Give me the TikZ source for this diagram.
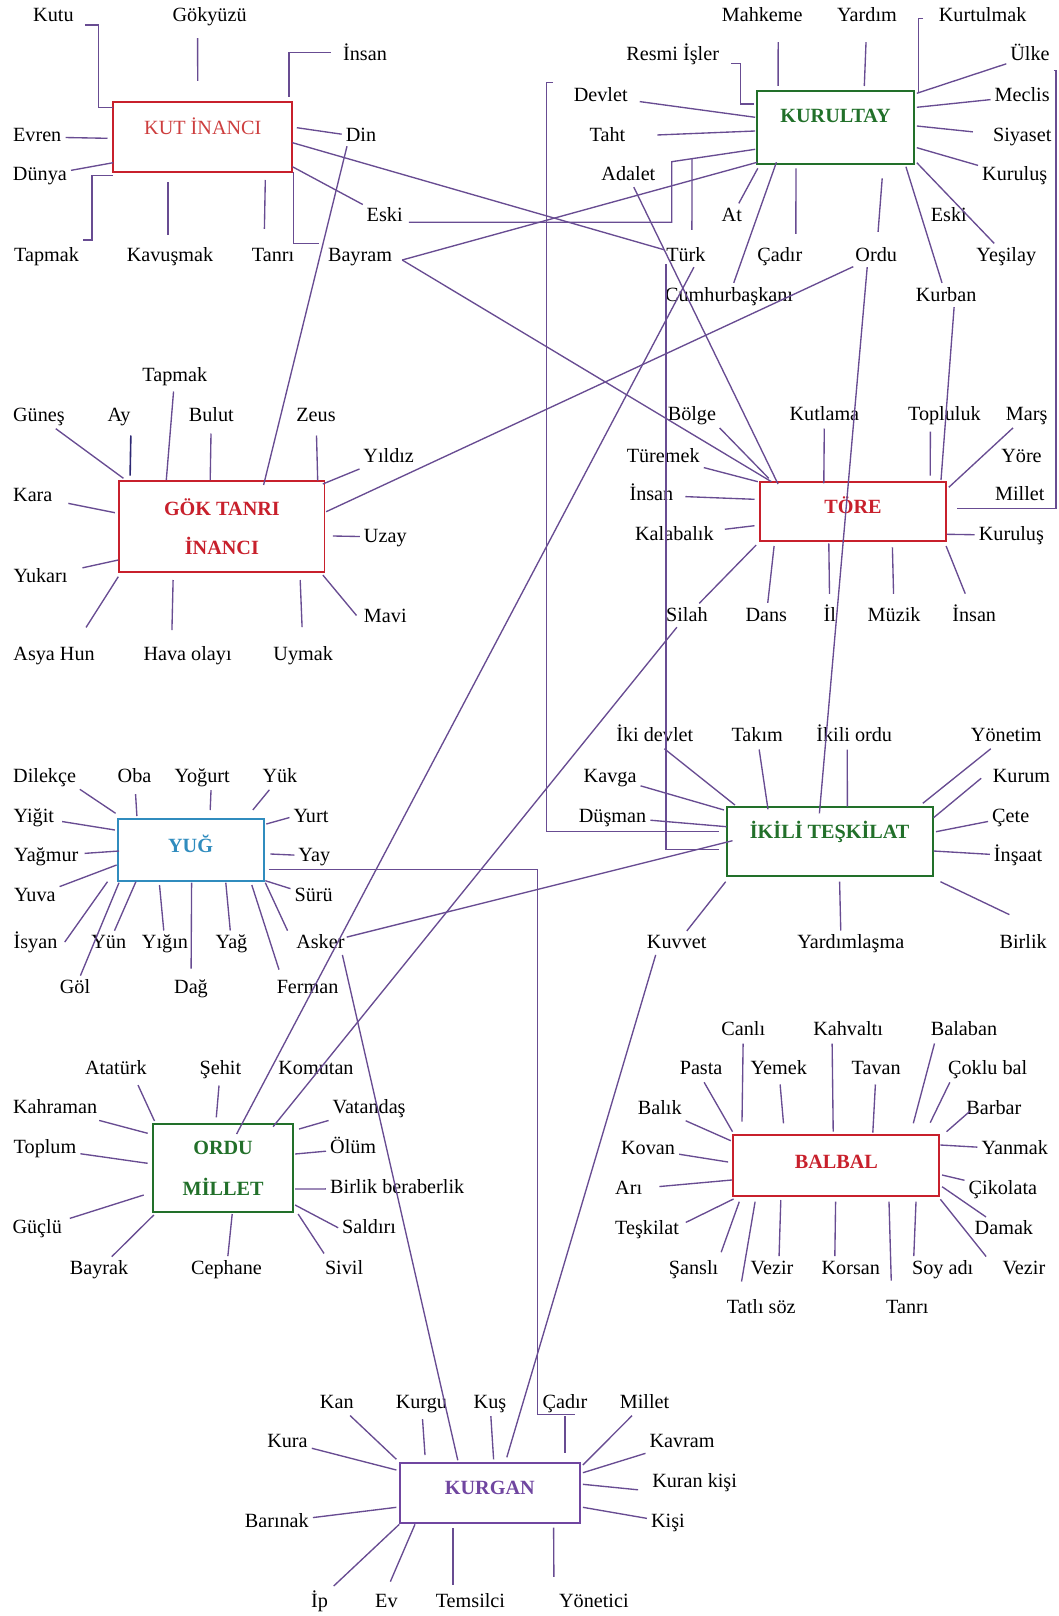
\documentclass[tikz,border=0pt]{standalone}
\usepackage{fontspec}
\setmainfont{Liberation Serif}
\usepackage{tikz}
\definecolor{linec}{RGB}{104,76,146}
\definecolor{boxred}{RGB}{200,32,44}
\definecolor{kutred}{RGB}{205,62,62}
\definecolor{boxgreen}{RGB}{34,112,42}
\definecolor{boxblue}{RGB}{48,140,190}
\definecolor{boxpurple}{RGB}{112,70,160}
\definecolor{aydark}{RGB}{45,40,115}
\newcommand{\lblsize}{\fontsize{20.2pt}{24.2pt}\selectfont}
\tikzstyle{term} = [inner sep=2pt, text height=14pt, text depth=4pt, yshift=-2pt]
\tikzstyle{redbox} = [rectangle, draw=boxred, text=boxred, line width=1.9pt, inner sep=0pt, outer sep=0pt, font=\lblsize\bfseries]
\tikzstyle{greenbox} = [rectangle, draw=boxgreen, text=boxgreen, line width=1.9pt, inner sep=0pt, outer sep=0pt, font=\lblsize\bfseries]
\tikzstyle{bluebox} = [rectangle, draw=boxblue, text=boxblue, line width=1.9pt, inner sep=0pt, outer sep=0pt, font=\lblsize\bfseries]
\tikzstyle{purplebox} = [rectangle, draw=boxpurple, text=boxpurple, line width=1.9pt, inner sep=0pt, outer sep=0pt, font=\lblsize\bfseries]
\tikzstyle{spoke} = [draw=linec, line width=1.35pt, shorten <=2pt]
\tikzstyle{link} = [draw=linec, line width=1.35pt]

\begin{document}
\begin{tikzpicture}[x=1pt, y=-1pt, font=\lblsize]
        \useasboundingbox (0,0) rectangle (1058,1616);

        % KUT INANCI
        \node (kut) [redbox, text=kutred, font=\lblsize, minimum width=179.2, minimum height=70, text height=4.8pt, text depth=10pt] at (202.8,137.3) {KUT İNANCI};
        \node (kutu) [term] at (53.4,15) {Kutu};
        \node (gokyuzu) [term] at (209.6,15) {Gökyüzü};
        \node (insanA) [term] at (365,53.3) {İnsan};
        \node (evren) [term] at (37.2,135) {Evren};
        \node (din) [term] at (361,135) {Din};
        \node (dunya) [term] at (39.9,174) {Dünya};
        \node (eskiA) [term] at (384.7,214.3) {Eski};
        \node (tapmakA) [term] at (46.6,254) {Tapmak};
        \node (kavusmak) [term] at (170,254) {Kavuşmak};
        \node (tanriA) [term] at (273.1,254) {Tanrı};
        \node (bayram) [term] at (360,254) {Bayram};

        % KURULTAY
        \node (kurultay) [greenbox, minimum width=156.8, minimum height=73.3, text height=5.7pt, text depth=15pt] at (835.6,127.65) {KURULTAY};
        \node (mahkeme) [term] at (762.2,15) {Mahkeme};
        \node (yardim) [term] at (867,15) {Yardım};
        \node (kurtulmak) [term] at (982.6,15) {Kurtulmak};
        \node (resmi) [term] at (672.7,54) {Resmi İşler};
        \node (ulke) [term] at (1030,54) {Ülke};
        \node (devlet) [term] at (600.7,94.3) {Devlet};
        \node (meclis) [term] at (1022.2,94.3) {Meclis};
        \node (taht) [term] at (607.4,135) {Taht};
        \node (siyaset) [term] at (1022.2,135) {Siyaset};
        \node (adalet) [term] at (628.4,174) {Adalet};
        \node (kurulusA) [term] at (1014.7,174) {Kuruluş};
        \node (atlbl) [term] at (731.8,214.3) {At};
        \node (eskiB) [term] at (948.8,214.3) {Eski};
        \node (turk) [term] at (685.9,254) {Türk};
        \node (cadirA) [term] at (779.8,254) {Çadır};
        \node (ordulbl) [term] at (876.2,254) {Ordu};
        \node (yesilay) [term] at (1006.3,254) {Yeşilay};
        \node (cumhur) [term] at (729.1,294) {Cumhurbaşkanı};
        \node (kurban) [term] at (946.1,294) {Kurban};

        % GOK TANRI INANCI
        \node (gok) [redbox, align=center, minimum width=205.2, minimum height=91.3] at (221.9,526.65) {GÖK TANRI\\[14.1pt]İNANCI};
        \node (tapmakB) [term] at (174.8,374.3) {Tapmak};
        \node (gunes) [term] at (38.9,414.3) {Güneş};
        \node (ay) [term] at (119,414.3) {Ay};
        \node (bulut) [term] at (211.3,414.3) {Bulut};
        \node (zeus) [term] at (316,414.3) {Zeus};
        \node (yildiz) [term] at (388.7,455) {Yıldız};
        \node (kara) [term] at (32.8,494.3) {Kara};
        \node (uzay) [term] at (385.3,535) {Uzay};
        \node (yukari) [term] at (40.6,575) {Yukarı};
        \node (mavi) [term] at (385.3,615) {Mavi};
        \node (asyahun) [term] at (54.1,653.3) {Asya Hun};
        \node (hava) [term] at (187.6,653.3) {Hava olayı};
        \node (uymak) [term] at (303.2,653.3) {Uymak};

        % TORE
        \node (tore) [redbox, minimum width=186.2, minimum height=59.3, text height=14.7pt, text depth=10pt] at (853,511.35) {TÖRE};
        \node (bolge) [term] at (691.9,413.3) {Bölge};
        \node (kutlama) [term] at (824.4,413.3) {Kutlama};
        \node (topluluk) [term] at (944.4,413.3) {Topluluk};
        \node (mars) [term] at (1026.6,413.3) {Marş};
        \node (turemek) [term] at (663.2,455) {Türemek};
        \node (yore) [term] at (1021.5,455) {Yöre};
        \node (insanB) [term] at (651.4,493.3) {İnsan};
        \node (milletA) [term] at (1019.8,493.3) {Millet};
        \node (kalabalik) [term] at (674.4,533.3) {Kalabalık};
        \node (kurulusB) [term] at (1011.4,533.3) {Kuruluş};
        \node (silah) [term] at (686.9,614) {Silah};
        \node (dans) [term] at (766.3,614) {Dans};
        \node (il) [term] at (829.8,614) {İl};
        \node (muzik) [term] at (894.1,614) {Müzik};
        \node (insanC) [term] at (974.2,614) {İnsan};

        % YUG
        \node (yug) [bluebox, minimum width=146, minimum height=61.4, text height=14pt, text depth=10pt] at (190.6,850) {YUĞ};
        \node (dilekce) [term] at (44.6,775) {Dilekçe};
        \node (oba) [term] at (134.5,775) {Oba};
        \node (yogurt) [term] at (202.1,775) {Yoğurt};
        \node (yuk) [term] at (279.9,775) {Yük};
        \node (yigit) [term] at (33.8,815) {Yiğit};
        \node (yurt) [term] at (311,815) {Yurt};
        \node (yagmur) [term] at (46.3,854) {Yağmur};
        \node (yay) [term] at (314.3,854) {Yay};
        \node (yuva) [term] at (34.8,894) {Yuva};
        \node (suru) [term] at (313.7,894) {Sürü};
        \node (isyan) [term] at (35.5,941.7) {İsyan};
        \node (yun) [term] at (108.8,941.7) {Yün};
        \node (yigin) [term] at (165,941.7) {Yığın};
        \node (yag) [term] at (231.5,941.7) {Yağ};
        \node (asker) [term] at (320.4,941.7) {Asker};
        \node (gol) [term] at (75,986.7) {Göl};
        \node (dag) [term] at (191,986.7) {Dağ};
        \node (ferman) [term] at (307.6,986.7) {Ferman};

        % IKILI TESKILAT
        \node (ikili) [greenbox, minimum width=205.9, minimum height=68.4, text height=8pt, text depth=15pt] at (829.65,841.5) {İKİLİ TEŞKİLAT};
        \node (ikidevlet) [term] at (654.8,734.3) {İki devlet};
        \node (takim) [term] at (757.2,734.3) {Takım};
        \node (ikiliordu) [term] at (854.2,734.3) {İkili ordu};
        \node (yonetim) [term] at (1006.3,734.3) {Yönetim};
        \node (kavga) [term] at (610.1,775) {Kavga};
        \node (kurum) [term] at (1021.5,775) {Kurum};
        \node (dusman) [term] at (612.5,815) {Düşman};
        \node (cete) [term] at (1010.7,815) {Çete};
        \node (insaat) [term] at (1018.1,854) {İnşaat};
        \node (kuvvet) [term] at (676.7,941.7) {Kuvvet};
        \node (yardimlasma) [term] at (850.8,941.7) {Yardımlaşma};
        \node (birlikA) [term] at (1023.2,941.7) {Birlik};

        % ORDU MILLET
        \node (ordu) [greenbox, align=center, minimum width=140.6, minimum height=88] at (223.1,1168.3) {ORDU\\[16.5pt]MİLLET};
        \node (ataturk) [term] at (115.9,1067.3) {Atatürk};
        \node (sehit) [term] at (220.4,1067.3) {Şehit};
        \node (komutan) [term] at (316,1067.3) {Komutan};
        \node (kahraman) [term] at (55.1,1106.7) {Kahraman};
        \node (vatandas) [term] at (369.1,1106.7) {Vatandaş};
        \node (toplum) [term] at (45,1146.7) {Toplum};
        \node (olum) [term] at (353.2,1146.7) {Ölüm};
        \node (birlikber) [term] at (397.2,1186.7) {Birlik beraberlik};
        \node (guclu) [term] at (37.2,1226.7) {Güçlü};
        \node (saldiri) [term] at (369.1,1226.7) {Saldırı};
        \node (bayrak) [term] at (99,1267.3) {Bayrak};
        \node (cephane) [term] at (226.5,1267.3) {Cephane};
        \node (sivil) [term] at (344.1,1267.3) {Sivil};

        % BALBAL
        \node (balbal) [redbox, minimum width=206.2, minimum height=60.7, text height=16.7pt, text depth=10pt] at (836.3,1165.35) {BALBAL};
        \node (canli) [term] at (743.3,1028.3) {Canlı};
        \node (kahvalti) [term] at (848.1,1028.3) {Kahvaltı};
        \node (balaban) [term] at (964,1028.3) {Balaban};
        \node (pasta) [term] at (701.1,1067.3) {Pasta};
        \node (yemek) [term] at (778.8,1067.3) {Yemek};
        \node (tavan) [term] at (876.2,1067.3) {Tavan};
        \node (coklubal) [term] at (987.7,1067.3) {Çoklu bal};
        \node (balik) [term] at (659.8,1107.3) {Balık};
        \node (barbar) [term] at (993.8,1107.3) {Barbar};
        \node (kovan) [term] at (648,1147.3) {Kovan};
        \node (yanmak) [term] at (1014.7,1147.3) {Yanmak};
        \node (ari) [term] at (628.7,1187.3) {Arı};
        \node (cikolata) [term] at (1002.9,1187.3) {Çikolata};
        \node (teskilat) [term] at (647,1227.3) {Teşkilat};
        \node (damak) [term] at (1003.9,1227.3) {Damak};
        \node (sansli) [term] at (693.6,1267.3) {Şanslı};
        \node (vezirA) [term] at (772,1267.3) {Vezir};
        \node (korsan) [term] at (850.8,1267.3) {Korsan};
        \node (soyadi) [term] at (942.7,1267.3) {Soy adı};
        \node (vezirB) [term] at (1023.9,1267.3) {Vezir};
        \node (tatlisoz) [term] at (761.2,1306.7) {Tatlı söz};
        \node (tanriB) [term] at (907.3,1306.7) {Tanrı};

        % KURGAN
        \node (kurgan) [purplebox, minimum width=179.6, minimum height=59.4, text height=13.4pt, text depth=10pt] at (489.8,1493) {KURGAN};
        \node (kan) [term] at (336.8,1401) {Kan};
        \node (kurgu) [term] at (421.4,1401) {Kurgu};
        \node (kus) [term] at (490,1401) {Kuş};
        \node (cadirB) [term] at (565,1401) {Çadır};
        \node (milletB) [term] at (644.6,1401) {Millet};
        \node (kura) [term] at (287.5,1440) {Kura};
        \node (kavram) [term] at (682.1,1440) {Kavram};
        \node (kurankisi) [term] at (694.6,1480) {Kuran kişi};
        \node (barinak) [term] at (276.8,1520) {Barınak};
        \node (kisi) [term] at (667.9,1520) {Kişi};
        \node (ip) [term] at (319.6,1600) {İp};
        \node (ev) [term] at (386.4,1600) {Ev};
        \node (temsilci) [term] at (470.4,1600) {Temsilci};
        \node (yonetici) [term] at (593.9,1600) {Yönetici};

        % spokes of KUT INANCI
        \draw [spoke] ([xshift=7,yshift=-8]kutu.east) -| ([xshift=-15,yshift=-5]kut.north west) -- ([yshift=-5]kut.north west);
        \draw [spoke, shorten <=10pt] ([xshift=-12]gokyuzu.south) -- ([xshift=84.5,yshift=21.3]kut.north west);
        \draw [spoke] ([xshift=-8,yshift=3]insanA.west) -| ([xshift=-3.4,yshift=5.6]kut.north east);
        \draw [spoke] (evren) -- ([xshift=-5.7,yshift=-36]kut.north west);
        \draw [spoke] (din) -- ([xshift=4.4,yshift=-25.4]kut.north east);
        \draw [spoke] (dunya) -- ([yshift=-60.4]kut.north west);
        \draw [spoke] ([yshift=4.7]tapmakA.north east) -| ([xshift=-21.3,yshift=-73.4]kut.north west) -- ([yshift=-73.4]kut.north west);
        \draw [spoke, shorten <=10pt] ([xshift=-2]kavusmak.north) -- ([xshift=54.8,yshift=-79.4]kut.north west);
        \draw [spoke, shorten <=16pt] ([xshift=-9]tanriA.north) -- ([xshift=152.1,yshift=-77.7]kut.north west);
        \draw [spoke] (eskiA) -- ([yshift=5.6]kut.south east);
        \draw [spoke] ([xshift=-5,yshift=1]bayram.north west) -| ([xshift=1]kut.south east);

        % spokes of KURULTAY
        \draw [spoke, shorten <=14pt] ([xshift=16]mahkeme.south) -- ([xshift=20.9,yshift=5]kurultay.north west);
        \draw [spoke, shorten <=14pt] (yardim) -- ([xshift=107.1,yshift=5]kurultay.north west);
        \draw [spoke] ([xshift=-11.6,yshift=-1.7]kurtulmak.west) -| ([xshift=4.5,yshift=-1.7]kurultay.north east);
        \draw [spoke] (ulke) -- ([xshift=2.8,yshift=-2.3]kurultay.north east);
        \draw [spoke] ([xshift=8,yshift=-7.7]resmi.east) -| ([xshift=-16.9,yshift=-13]kurultay.north west) -- ([xshift=-3.4,yshift=-13]kurultay.north west);
        \draw [spoke, shorten <=10pt] (devlet) -- ([xshift=-2,yshift=-26.3]kurultay.north west);
        \draw [spoke, shorten <=30pt] (taht) -- ([xshift=-2,yshift=-40]kurultay.north west);
        \draw [spoke] (meclis) -- ([xshift=2.8,yshift=-16.3]kurultay.north east);
        \draw [spoke, shorten <=18pt] (siyaset) -- ([xshift=2.8,yshift=-35]kurultay.north east);
        \draw [spoke] (kurulusA) -- ([xshift=2.8,yshift=-56.7]kurultay.north east);
        \draw [spoke] (atlbl) -- ([xshift=0.6,yshift=-4]kurultay.south west);
        \draw [spoke] (cumhur) -- ([xshift=19.2,yshift=2]kurultay.south west);
        \draw [spoke, shorten <=11pt] ([xshift=16]cadirA.north) -- ([xshift=38.8,yshift=-4]kurultay.south west);
        \draw [spoke, shorten <=13pt] (ordulbl) -- ([xshift=125,yshift=-14]kurultay.south west);
        \draw [spoke] (kurban) -- ([xshift=148.7,yshift=-2.4]kurultay.south west);
        \draw [spoke] (yesilay) -- ([xshift=2.8,yshift=1.6]kurultay.south east);
        \draw [spoke] ([xshift=6,yshift=13]turk.north) -- ([xshift=-65.2,yshift=5.5]kurultay.south west);

        % spokes of GOK TANRI INANCI
        \draw [spoke, shorten <=4pt] (tapmakB) -- ([xshift=47,yshift=1]gok.north west);
        \draw [spoke] (gunes) -- ([xshift=4.1,yshift=2.7]gok.north west);
        \draw [spoke, draw=aydark, line width=1.6pt, shorten <=8pt] ([xshift=12]ay.south) -- ([xshift=10.8,yshift=5.3]gok.north west);
        \draw [spoke, shorten <=6pt] (bulut) -- ([xshift=90.9,yshift=1]gok.north west);
        \draw [spoke, shorten <=8pt] (zeus) -- ([xshift=198.4,yshift=0.3]gok.north west);
        \draw [spoke] (yildiz) -- ([xshift=-1.7,yshift=-3]gok.north east);
        \draw [spoke, shorten <=14pt] (kara) -- ([xshift=-4.4,yshift=-31.7]gok.north west);
        \draw [spoke] (uzay) -- ([xshift=8.4,yshift=-55]gok.north east);
        \draw [spoke, shorten <=13pt] (yukari) -- ([xshift=-1,yshift=-79]gok.north west);
        \draw [spoke] ([xshift=-4]mavi.west) -- ([xshift=-1.7,yshift=-2.7]gok.south east);
        \draw [spoke] ([xshift=-12,yshift=15]asyahun.north east) -- ([xshift=-1,yshift=-4.4]gok.south west);
        \draw [spoke, shorten <=14pt] ([xshift=-16]hava.north) -- ([xshift=53.8,yshift=-7.7]gok.south west);
        \draw [spoke, shorten <=17pt] (uymak) -- ([xshift=180.9,yshift=-7.7]gok.south west);

        % spokes of TORE
        \draw [spoke] (bolge.south east) -- ([xshift=8.8,yshift=3.4]tore.north west);
        \draw [spoke] (turemek) -- ([xshift=-2.1]tore.north west);
        \draw [spoke, shorten <=10pt] (insanB) -- ([xshift=-5.4,yshift=-17.6]tore.north west);
        \draw [spoke, shorten <=9pt] (kalabalik) -- ([xshift=-5.4,yshift=-44]tore.north west);
        \draw [spoke] (kutlama) -- ([xshift=63.9,yshift=-1.6]tore.north west);
        \draw [spoke, shorten <=5pt] ([xshift=-14]topluluk.south) -- ([xshift=170.3,yshift=6]tore.north west);
        \draw [spoke] (mars) -- ([xshift=2.7,yshift=-5.6]tore.north east);
        \draw [spoke] (kurulusB) -- ([xshift=1,yshift=-52.6]tore.north east);
        \draw [spoke] (silah) -- ([xshift=-3.7,yshift=-4]tore.south west);
        \draw [spoke] (dans) -- ([xshift=14.2,yshift=-5]tore.south west);
        \draw [spoke, shorten <=11pt] (il) -- ([xshift=68.9,yshift=-2.3]tore.south west);
        \draw [spoke, shorten <=11pt] (muzik) -- ([xshift=132.5,yshift=-6.3]tore.south west);
        \draw [spoke, shorten <=12pt] (insanC) -- ([yshift=-5]tore.south east);

        % spokes of YUG
        \draw [spoke] (dilekce.south east) -- ([xshift=-2,yshift=6]yug.north west);
        \draw [spoke, shorten <=6pt] (oba) -- ([xshift=19.3,yshift=3.3]yug.north west);
        \draw [spoke] ([xshift=9]yogurt.south) -- ([xshift=92.6,yshift=9.3]yug.north west);
        \draw [spoke] (yuk) -- ([xshift=135.2,yshift=9.3]yug.north west);
        \draw [spoke, shorten <=6pt] (yigit) -- ([xshift=-2.7,yshift=-10.7]yug.north west);
        \draw [spoke] (yurt.west) -- ([xshift=2.7,yshift=-4.7]yug.north east);
        \draw [spoke, shorten <=4pt] (yagmur) -- ([xshift=1.4,yshift=-31.7]yug.north west);
        \draw [spoke] (yay) -- ([xshift=6.8,yshift=-34.7]yug.north east);
        \draw [spoke] (yuva) -- ([xshift=-1,yshift=-45.7]yug.north west);
        \draw [spoke] (suru) -- ([xshift=1.7]yug.south east);
        \draw [spoke] ([xshift=4]isyan.east) -- ([xshift=-10.1,yshift=-1]yug.south west);
        \draw [spoke] (gol) -- ([xshift=1.4,yshift=-2]yug.south west);
        \draw [spoke] (yun) -- ([xshift=18.3,yshift=-1]yug.south west);
        \draw [spoke] (yigin) -- ([xshift=41.9,yshift=-4.3]yug.south west);
        \draw [spoke, shorten <=9pt] (dag) -- ([xshift=74,yshift=-2]yug.south west);
        \draw [spoke] (yag) -- ([xshift=108.2,yshift=-2]yug.south west);
        \draw [spoke] ([xshift=-28,yshift=6]ferman.north) -- ([xshift=134.2,yshift=-4.3]yug.south west);
        \draw [spoke] ([xshift=-32]asker.north) -- ([xshift=1.7,yshift=-2]yug.south east);

        % spokes of IKILI TESKILAT
        \draw [spoke] ([xshift=8]ikidevlet.south) -- ([xshift=8.2,yshift=2.3]ikili.north west);
        \draw [spoke] (takim) -- ([xshift=41.3,yshift=-2]ikili.north west);
        \draw [spoke] ([xshift=-7]ikiliordu.south) -- ([xshift=120.7,yshift=0.6]ikili.north west);
        \draw [spoke] (kavga) -- ([xshift=-2.7,yshift=-2.7]ikili.north west);
        \draw [spoke] (dusman) -- ([yshift=-19.4]ikili.north west);
        \draw [spoke] (yonetim) -- ([xshift=-9.8,yshift=4]ikili.north east);
        \draw [spoke] ([xshift=-8]kurum.west) -- ([xshift=1,yshift=-10.4]ikili.north east);
        \draw [spoke] (cete) -- ([xshift=3.4,yshift=-24.4]ikili.north east);
        \draw [spoke] (insaat) -- ([xshift=1,yshift=-43.7]ikili.north east);
        \draw [spoke] ([xshift=-12,yshift=17]birlikA.north) -- ([xshift=7.8,yshift=-6]ikili.south east);
        \draw [spoke] (kuvvet) -- ([xshift=-1,yshift=-6]ikili.south west);
        \draw [spoke] ([xshift=-10]yardimlasma.north) -- ([xshift=112.9,yshift=-6]ikili.south west);

        % spokes of ORDU MILLET
        \draw [spoke, shorten <=5pt] ([xshift=20]ataturk.south) -- ([xshift=1.7,yshift=3.3]ordu.north west);
        \draw [spoke, shorten <=5pt] (sehit) -- ([xshift=63.5,yshift=7]ordu.north west);
        \draw [spoke] (kahraman) -- ([xshift=-5.1,yshift=-9]ordu.north west);
        \draw [spoke] (toplum) -- ([xshift=-5.1,yshift=-39]ordu.north west);
        \draw [spoke, shorten <=6pt] (guclu) -- ([xshift=-9.1,yshift=-70.7]ordu.north west);
        \draw [spoke] (bayrak) -- ([xshift=1,yshift=-2.7]ordu.south west);
        \draw [spoke] (cephane) -- ([xshift=79.4,yshift=-1.7]ordu.south west);
        \draw [spoke] (vatandas) -- ([xshift=5.7,yshift=-4.7]ordu.north east);
        \draw [spoke] (olum) -- ([xshift=1.7,yshift=-29.7]ordu.north east);
        \draw [spoke] (birlikber) -- ([xshift=1.7,yshift=-64.7]ordu.north east);
        \draw [spoke] (saldiri.west) -- ([xshift=1.7,yshift=7.3]ordu.south east);
        \draw [spoke] ([xshift=-19,yshift=3]sivil.north) -- ([xshift=4.7,yshift=-1.7]ordu.south east);

        % spokes of BALBAL
        \draw [spoke] (canli) -- ([xshift=8.8,yshift=13.3]balbal.north west);
        \draw [spoke] ([xshift=2]pasta.south) -- ([xshift=-0.7,yshift=3.3]balbal.north west);
        \draw [spoke, shorten <=4pt] (yemek) -- ([xshift=50.3,yshift=11.7]balbal.north west);
        \draw [spoke] ([xshift=-16]kahvalti.south) -- ([xshift=100,yshift=3.3]balbal.north west);
        \draw [spoke, shorten <=4pt] (tavan) -- ([xshift=139.6,yshift=2.3]balbal.north west);
        \draw [spoke] ([xshift=-29]balaban.south) -- ([xshift=180.1,yshift=11.7]balbal.north west);
        \draw [spoke] ([xshift=-37]coklubal.south) -- ([xshift=197,yshift=12.3]balbal.north west);
        \draw [spoke] ([xshift=8]barbar.west) -- ([xshift=7.1,yshift=3.3]balbal.north east);
        \draw [spoke] (balik) -- ([xshift=-2.4,yshift=-5.7]balbal.north west);
        \draw [spoke] (kovan) -- ([xshift=-5.1,yshift=-27]balbal.north west);
        \draw [spoke, shorten <=15pt] (ari) -- ([xshift=-1.4,yshift=-45]balbal.north west);
        \draw [spoke] ([xshift=3,yshift=6]teskilat.east) -- ([xshift=0.3,yshift=-3.3]balbal.south west);
        \draw [spoke] ([yshift=4]sansli.north east) -- ([xshift=6.1,yshift=-6]balbal.south west);
        \draw [spoke] ([xshift=-20,yshift=14]tatlisoz.north) -- ([xshift=21.9,yshift=-6]balbal.south west);
        \draw [spoke] ([xshift=7]vezirA.north) -- ([xshift=47.6,yshift=-4.3]balbal.south west);
        \draw [spoke] ([xshift=-16]korsan.north) -- ([xshift=102.4,yshift=-6]balbal.south west);
        \draw [spoke] ([xshift=-16,yshift=15]tanriB.north) -- ([xshift=155.8,yshift=-6]balbal.south west);
        \draw [spoke] ([xshift=-29]soyadi.north) -- ([xshift=182.8,yshift=-6]balbal.south west);
        \draw [spoke] (yanmak) -- ([xshift=1,yshift=-10]balbal.north east);
        \draw [spoke] (cikolata) -- ([xshift=2.7,yshift=-40]balbal.north east);
        \draw [spoke] (damak) -- ([xshift=2.7,yshift=-51.7]balbal.north east);
        \draw [spoke] ([xshift=-13]vezirB.north west) -- ([xshift=1,yshift=-3.6]balbal.south east);

        % spokes of KURGAN
        \draw [spoke] (kan) -- ([xshift=-3.6,yshift=4]kurgan.north west);
        \draw [spoke, shorten <=5pt] (kurgu) -- ([xshift=25,yshift=8.3]kurgan.north west);
        \draw [spoke] (kus) -- ([xshift=93.6,yshift=4]kurgan.north west);
        \draw [spoke] (cadirB) -- ([xshift=165,yshift=10.6]kurgan.north west);
        \draw [spoke] (milletB) -- ([xshift=3.3,yshift=-1.7]kurgan.north east);
        \draw [spoke] (kura) -- ([xshift=-3.6,yshift=-6.7]kurgan.north west);
        \draw [spoke] (kavram) -- ([xshift=3.3,yshift=-9.4]kurgan.north east);
        \draw [spoke] ([xshift=-10,yshift=-8]kurankisi.west) -- ([xshift=3.3,yshift=-21]kurgan.north east);
        \draw [spoke] (kisi) -- ([xshift=3.3,yshift=-44]kurgan.north east);
        \draw [spoke] (barinak) -- ([xshift=-3.6,yshift=-44]kurgan.north west);
        \draw [spoke, shorten <=7pt] ([xshift=9]ip.north) -- ([xshift=-0.7,yshift=-1.6]kurgan.south west);
        \draw [spoke, shorten <=10pt] (ev.north) -- ([xshift=15,yshift=-1.6]kurgan.south west);
        \draw [spoke, shorten <=6pt] ([xshift=-17.5]temsilci.north) -- ([xshift=52.9,yshift=-5]kurgan.south west);
        \draw [spoke] ([xshift=-40,yshift=12]yonetici.north) -- ([xshift=153.6,yshift=-5]kurgan.south west);

        % links between the groups
        \draw [link] ([yshift=-5.4]kut.east) -- (turk);
        \draw [link] ([xshift=4,yshift=-6]eskiA.east) -| ([xshift=-85.5,yshift=2.6]kurultay.south west) -- ([xshift=-2,yshift=15]kurultay.south west);
        \draw [link] ([xshift=8,yshift=-4]bayram.east) -- ([yshift=2]kurultay.south west);
        \draw [link] ([xshift=8,yshift=-4]bayram.east) -- ([xshift=11.5]tore.north west);
        \draw [link] ([xshift=-14,yshift=2]din.south) -- ([xshift=144.3,yshift=-4]gok.north west);
        \draw [link] ([xshift=1.7,yshift=-30.7]gok.north east) -- (ordulbl);
        \draw [link] (adalet) -- ([xshift=18.1,yshift=-2.3]tore.north west);
        \draw [link] ([xshift=8]kurban.south) -- ([xshift=-5.1,yshift=1.7]tore.north east);
        \draw [link] ([xshift=2,yshift=-3]ulke.south east) -| ([xshift=109.9,yshift=-26.6]tore.north east) -- ([xshift=11.2,yshift=-26.6]tore.north east);
        \draw [link] ([xshift=-18.4,yshift=2.3]devlet.north west) -- ++(-6.8,0) |- ([xshift=-7.7,yshift=-24.4]ikili.north west);
        \draw [link] ([xshift=3,yshift=21]cumhur.north west) |- ([xshift=-7.7,yshift=-42]ikili.north west);
        \draw [link] ([xshift=-9]ordulbl.south) -- ([xshift=92.7,yshift=-6]ikili.north west);
        \draw [link] ([xshift=8]turk.south) -- ([xshift=83.8,yshift=-9.7]ordu.north west);
        \draw [link] ([xshift=-10]silah.south) -- ([xshift=120.3,yshift=-2.4]ordu.north west);
        \draw [link] (asker) -- ([xshift=5.8,yshift=-33.4]ikili.north west);
        \draw [link] ([xshift=22]asker.south) -- ([xshift=-32,yshift=3]kurgan.north);
        \draw [link] ([xshift=-21]kuvvet.south) -- ([xshift=17,yshift=6]kurgan.north);
        \draw [link] ([xshift=5.1,yshift=-50]yug.north east) -| ([xshift=-3]cadirB.south west) -- ([xshift=10]cadirB.south);
    \end{tikzpicture}
\end{document}
